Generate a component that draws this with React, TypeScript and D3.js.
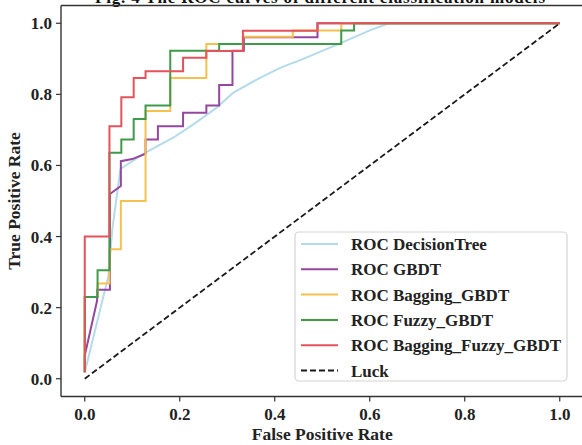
import React from 'react';
import * as d3 from 'd3';

// ROC curves: [fpr, tpr]
const decisionTree: [number, number][] = [
  [0, 0.018], [0.05, 0.29], [0.058, 0.42], [0.075, 0.59], [0.128, 0.636], [0.186, 0.678],
  [0.228, 0.715], [0.277, 0.762], [0.312, 0.804], [0.368, 0.846], [0.41, 0.874],
  [0.46, 0.9], [0.54, 0.945], [0.6, 0.98], [0.64, 1.0], [1, 1],
];
const gbdt: [number, number][] = [
  [0, 0.018], [0, 0.065], [0.026, 0.22], [0.026, 0.25], [0.053, 0.25], [0.053, 0.52],
  [0.076, 0.542], [0.076, 0.612], [0.1, 0.618], [0.128, 0.633], [0.128, 0.673],
  [0.154, 0.673], [0.154, 0.71], [0.207, 0.71], [0.207, 0.748], [0.256, 0.748],
  [0.256, 0.769], [0.283, 0.769], [0.283, 0.826], [0.311, 0.826], [0.311, 0.923],
  [0.335, 0.923], [0.335, 0.961], [0.49, 0.961], [0.49, 1], [1, 1],
];
const baggingGbdt: [number, number][] = [
  [0, 0.018], [0, 0.23], [0.027, 0.23], [0.027, 0.268], [0.052, 0.268], [0.052, 0.364],
  [0.076, 0.364], [0.076, 0.5], [0.128, 0.5], [0.128, 0.753], [0.18, 0.753],
  [0.18, 0.846], [0.256, 0.846], [0.256, 0.942], [0.333, 0.942], [0.333, 0.962],
  [0.438, 0.962], [0.438, 0.98], [0.54, 0.98], [0.54, 1], [1, 1],
];
const fuzzyGbdt: [number, number][] = [
  [0, 0.018], [0, 0.23], [0.027, 0.23], [0.027, 0.305], [0.052, 0.305], [0.052, 0.636],
  [0.077, 0.636], [0.077, 0.673], [0.103, 0.673], [0.103, 0.731], [0.128, 0.731],
  [0.128, 0.769], [0.18, 0.769], [0.18, 0.923], [0.283, 0.923], [0.283, 0.942],
  [0.54, 0.942], [0.54, 0.98], [0.567, 0.98], [0.567, 1], [1, 1],
];
const baggingFuzzyGbdt: [number, number][] = [
  [0, 0.018], [0, 0.4], [0.052, 0.4], [0.052, 0.71], [0.077, 0.71], [0.077, 0.792],
  [0.103, 0.792], [0.103, 0.846], [0.128, 0.846], [0.128, 0.865], [0.207, 0.865],
  [0.207, 0.903], [0.256, 0.903], [0.256, 0.922], [0.333, 0.922], [0.333, 0.979],
  [0.49, 0.979], [0.49, 1], [1, 1],
];
const luck: [number, number][] = [[0, 0], [1, 1]];

const seriesNames = ['ROC DecisionTree', 'ROC GBDT', 'ROC Bagging_GBDT', 'ROC Fuzzy_GBDT', 'ROC Bagging_Fuzzy_GBDT', 'Luck'];
const seriesData = [decisionTree, gbdt, baggingGbdt, fuzzyGbdt, baggingFuzzyGbdt, luck];
const seriesColors = ['#b4dbe9', '#94479f', '#f6c04f', '#3f9a4a', '#e4525a', '#1a1a1a'];
const xTicks = [0, 0.2, 0.4, 0.6, 0.8, 1.0];
const yTicks = [0, 0.2, 0.4, 0.6, 0.8, 1.0];

const W = 582;
const H = 445;
const FONT = '"Liberation Serif", "Times New Roman", serif';

export default function App() {
  const x = d3.scaleLinear().domain([-0.05, 1.05]).range([61, 583.5]);
  const y = d3.scaleLinear().domain([-0.05, 1.05]).range([396.5, 5.5]);
  const line = d3.line<[number, number]>().x(d => x(d[0])).y(d => y(d[1]));
  const [x0, x1] = x.range();
  const [y0, y1] = y.range();

  const legX = 295, legY = 232, legW = 272, legH = 149, rowH = 25.3;

  return (
    <svg width={W} height={H} style={{ position: 'absolute', left: 0, top: 0, background: '#fff' }} fontFamily={FONT}>
      {/* cropped caption at the very top */}
      <text x={320} y={3} textAnchor="middle" fontSize={17} fontWeight="bold" fill="#111" textLength={450}>
        Fig. 4  The ROC curves of different classification models
      </text>

      {/* curves */}
      {seriesData.map((d, i) => (
        <path key={i} d={line(d) ?? ''} fill="none" stroke={seriesColors[i]}
          strokeWidth={i === 5 ? 1.8 : 2} strokeDasharray={i === 5 ? '6,3' : undefined}
          strokeLinejoin="miter" />
      ))}

      {/* spines */}
      <line x1={x0} x2={x0} y1={y0} y2={y1} stroke="#333" strokeWidth={1.4} />
      <line x1={x0} x2={x1} y1={y0} y2={y0} stroke="#333" strokeWidth={1.4} />
      <line x1={x0} x2={x1} y1={y1} y2={y1} stroke="#333" strokeWidth={1.4} />
      <line x1={x1} x2={x1} y1={y0} y2={y1} stroke="#333" strokeWidth={1.4} />

      {/* x ticks */}
      {xTicks.map(t => (
        <g key={t} transform={`translate(${x(t)},${y0})`}>
          <line y1={0} y2={5} stroke="#333" strokeWidth={1.2} />
          <text y={23} textAnchor="middle" fontSize={17} fontWeight="bold" fill="#222">{t.toFixed(1)}</text>
        </g>
      ))}
      {/* y ticks */}
      {yTicks.map(t => (
        <g key={t} transform={`translate(${x0},${y(t)})`}>
          <line x1={0} x2={-5} stroke="#333" strokeWidth={1.2} />
          <text x={-9} y={6} textAnchor="end" fontSize={17} fontWeight="bold" fill="#222">{t.toFixed(1)}</text>
        </g>
      ))}

      {/* axis labels */}
      <text x={(x0 + x1) / 2} y={440} textAnchor="middle" fontSize={17.5} fontWeight="bold" fill="#222">
        False Positive Rate
      </text>
      <text transform={`translate(20,${(y0 + y1) / 2}) rotate(-90)`} textAnchor="middle" fontSize={17.5} fontWeight="bold" fill="#222">
        True Positive Rate
      </text>

      {/* legend */}
      <rect x={legX} y={legY} width={legW} height={legH} rx={4} fill="#fff" fillOpacity={0.85} stroke="#d4d4d4" strokeWidth={1.2} />
      {seriesNames.map((name, i) => {
        const cy = legY + 12 + rowH * i;
        return (
          <g key={name}>
            <line x1={legX + 6} x2={legX + 43} y1={cy} y2={cy} stroke={seriesColors[i]}
              strokeWidth={i === 5 ? 1.8 : 2} strokeDasharray={i === 5 ? '6,3' : undefined} />
            <text x={legX + 56} y={cy + 6} fontSize={17} fontWeight="bold" fill="#222">{name}</text>
          </g>
        );
      })}
    </svg>
  );
}
